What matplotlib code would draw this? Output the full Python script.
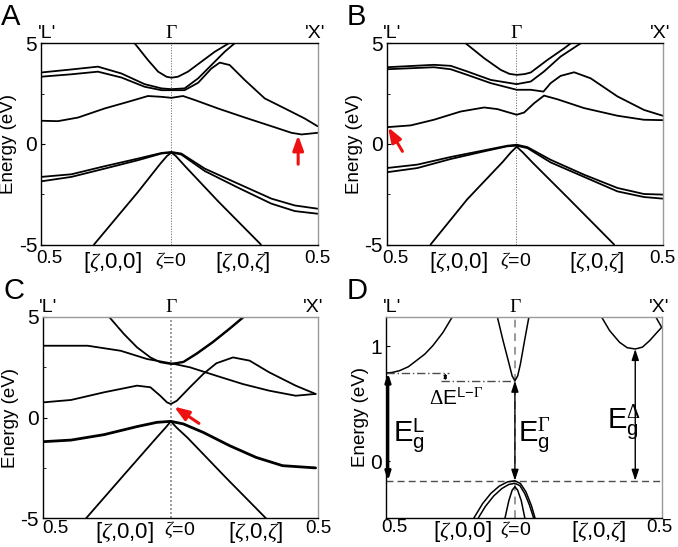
import matplotlib
matplotlib.use("Agg")
import matplotlib.pyplot as plt

plt.rcParams['font.family'] = ['Liberation Sans', 'DejaVu Sans']
plt.rcParams['mathtext.fontset'] = 'custom'
plt.rcParams['mathtext.rm'] = 'Liberation Serif'
plt.rcParams['mathtext.it'] = 'Liberation Serif:italic'
plt.rcParams['mathtext.sf'] = 'Liberation Sans'

# k-path coordinate: 0 = 'L' end, 1 = 'X' end, Gamma in between
K_GAMMA = 0.469

# ---------------- panel A ----------------
A_c4_k = [0.338, 0.386, 0.423, 0.453, 0.471, 0.495, 0.531, 0.580, 0.628, 0.679]
A_c4_E = [5.0, 4.17, 3.59, 3.34, 3.29, 3.34, 3.59, 4.09, 4.58, 5.0]
A_c3_k = [0, 0.109, 0.205, 0.290, 0.374, 0.435, 0.471, 0.519, 0.568, 0.616, 0.664, 0.700]
A_c3_E = [3.55, 3.70, 3.84, 3.50, 2.97, 2.76, 2.72, 2.76, 3.26, 3.92, 4.58, 5.0]
A_c2_k = [0, 0.109, 0.205, 0.290, 0.374, 0.435, 0.471, 0.519, 0.568, 0.616, 0.646, 0.682,
          0.737, 0.809, 0.882, 0.954, 1.0]
A_c2_E = [3.34, 3.46, 3.59, 3.30, 2.84, 2.67, 2.67, 2.67, 3.04, 3.75, 4.04, 3.92,
          3.17, 2.26, 1.76, 1.26, 0.88]
A_c1_k = [0, 0.060, 0.133, 0.229, 0.314, 0.386, 0.435, 0.471, 0.513, 0.556, 0.640,
          0.737, 0.833, 0.906, 0.942, 1.0]
A_c1_E = [1.15, 1.13, 1.31, 1.76, 2.09, 2.38, 2.34, 2.29, 2.38, 2.18, 1.76,
          1.31, 0.88, 0.55, 0.47, 0.55]
A_v1_k = [0, 0.109, 0.229, 0.350, 0.435, 0.471, 0.507, 0.592, 0.713, 0.833, 0.918, 1.0]
A_v1_E = [-1.64, -1.51, -1.11, -0.73, -0.45, -0.40, -0.48, -1.23, -1.98, -2.72, -3.06, -3.22]
A_v2_k = [0, 0.109, 0.229, 0.350, 0.435, 0.471, 0.507, 0.592, 0.713, 0.833, 0.918, 1.0]
A_v2_E = [-1.86, -1.64, -1.23, -0.81, -0.48, -0.43, -0.53, -1.35, -2.18, -2.97, -3.34, -3.47]
A_v0_k = [0.191, 0.350, 0.430, 0.455, 0.471, 0.487, 0.520, 0.640, 0.795]
A_v0_E = [-5.0, -2.39, -1.0, -0.6, -0.43, -0.6, -1.1, -2.85, -5.0]
A_arrow = [(0.930, -1.01), (0.930, 0.43)]   # tail, tip

# ---------------- panel B ----------------
B_c4_k = [0.286, 0.353, 0.413, 0.445, 0.471, 0.500, 0.522, 0.582, 0.643, 0.667]
B_c4_E = [5.0, 4.26, 3.68, 3.48, 3.43, 3.47, 3.55, 4.17, 4.75, 5.0]
B_c3_k = [0, 0.171, 0.232, 0.292, 0.377, 0.471, 0.522, 0.570, 0.630, 0.703]
B_c3_E = [3.81, 3.93, 3.88, 3.60, 3.18, 2.97, 3.10, 3.60, 4.34, 5.0]
B_c2_k = [0, 0.171, 0.232, 0.292, 0.377, 0.471, 0.522, 0.568, 0.594, 0.630, 0.679,
          0.739, 0.836, 0.932, 1.0]
B_c2_E = [3.71, 3.81, 3.71, 3.43, 3.02, 2.69, 2.69, 2.60, 3.02, 3.38, 3.56,
          3.26, 2.36, 1.69, 1.40]
B_c1_k = [0, 0.087, 0.171, 0.268, 0.353, 0.401, 0.443, 0.471, 0.498, 0.534, 0.570,
          0.618, 0.715, 0.836, 0.932, 1.0]
B_c1_E = [0.83, 0.92, 1.20, 1.61, 1.81, 1.73, 1.56, 1.45, 1.56, 2.02, 2.40,
          2.22, 1.78, 1.40, 1.20, 1.18]
B_v1_k = [0, 0.111, 0.232, 0.353, 0.437, 0.471, 0.510, 0.594, 0.715, 0.836, 0.932, 1.0]
B_v1_E = [-1.20, -1.03, -0.65, -0.32, -0.09, -0.04, -0.16, -0.79, -1.53, -2.19, -2.49, -2.52]
B_v2_k = [0, 0.111, 0.232, 0.353, 0.437, 0.471, 0.510, 0.594, 0.715, 0.836, 0.932, 1.0]
B_v2_E = [-1.41, -1.20, -0.75, -0.37, -0.12, -0.09, -0.21, -0.92, -1.64, -2.36, -2.64, -2.72]
B_v0_k = [0.159, 0.292, 0.420, 0.450, 0.471, 0.493, 0.530, 0.655, 0.824]
B_v0_E = [-5.0, -2.75, -0.90, -0.42, -0.14, -0.42, -0.95, -2.66, -5.0]
B_arrow = [(0.057, -0.37), (0.005, 0.83)]

# ---------------- panel C ----------------
C_c4_k = [0.242, 0.297, 0.345, 0.394, 0.430, 0.469, 0.515, 0.564, 0.624, 0.685, 0.739]
C_c4_E = [5.0, 4.14, 3.48, 2.98, 2.74, 2.65, 2.74, 3.15, 3.73, 4.39, 5.0]
C_c5_k = [0.469, 0.515, 0.564, 0.624, 0.685, 0.735]
C_c5_E = [2.66, 2.77, 3.19, 3.77, 4.43, 5.0]
C_c3_k = [0, 0.164, 0.285, 0.382, 0.469, 0.539, 0.636, 0.733, 0.830, 0.927, 1.0]
C_c3_E = [3.56, 3.56, 3.31, 2.90, 2.69, 2.49, 2.07, 1.66, 1.33, 1.08, 1.17]
C_c1_k = [0, 0.103, 0.224, 0.345, 0.394, 0.430, 0.455, 0.469, 0.491, 0.539, 0.588,
          0.636, 0.697, 0.758, 0.830, 0.927, 1.0]
C_c1_E = [0.75, 0.87, 1.25, 1.58, 1.50, 1.08, 0.75, 0.67, 0.83, 1.50, 2.16,
          2.69, 2.98, 2.82, 2.24, 1.58, 1.17]
C_v1_k = [0, 0.103, 0.224, 0.345, 0.418, 0.469, 0.515, 0.588, 0.685, 0.782, 0.879, 1.0]
C_v1_E = [-1.20, -1.12, -0.85, -0.45, -0.24, -0.19, -0.32, -0.74, -1.40, -1.98, -2.39, -2.50]
C_v0_k = [0.158, 0.300, 0.420, 0.450, 0.469, 0.490, 0.530, 0.670, 0.818]
C_v0_E = [-5.0, -2.80, -0.95, -0.50, -0.19, -0.50, -1.00, -2.97, -5.0]
C_arrow = [(0.572, -0.29), (0.481, 0.54)]

# ---------------- panel D ----------------
D_L_k = [0, 0.02, 0.048, 0.08, 0.109, 0.14, 0.169, 0.206, 0.240]
D_L_E = [0.766, 0.77, 0.786, 0.82, 0.873, 0.93, 1.003, 1.118, 1.254]
D_G_k = [0.403, 0.424, 0.446, 0.457, 0.467, 0.477, 0.487, 0.502, 0.518]
D_G_E = [1.254, 1.046, 0.844, 0.74, 0.699, 0.74, 0.844, 1.046, 1.254]
D_X_k = [0.781, 0.811, 0.847, 0.875, 0.904, 0.930, 0.956, 0.980, 1.0]
D_X_E = [1.254, 1.133, 1.032, 0.985, 0.974, 0.99, 1.046, 1.11, 1.162]
D_X2_k = [0.978, 1.0]
D_X2_E = [1.254, 1.162]
D_v1_k = [0.318, 0.350, 0.380, 0.410, 0.440, 0.467, 0.487, 0.507, 0.527, 0.540]
D_v1_E = [-0.491, -0.365, -0.277, -0.215, -0.178, -0.168, -0.192, -0.264, -0.384, -0.491]
D_v2_k = [0.334, 0.360, 0.390, 0.420, 0.445, 0.467, 0.485, 0.503, 0.520, 0.535]
D_v2_E = [-0.491, -0.39, -0.30, -0.235, -0.20, -0.19, -0.21, -0.28, -0.38, -0.491]
D_v3_k = [0.431, 0.445, 0.457, 0.467, 0.477, 0.490, 0.503]
D_v3_E = [-0.491, -0.34, -0.25, -0.22, -0.25, -0.34, -0.491]
D_VBM = -0.168
D_CBM_L = 0.766
D_CBM_G = 0.699
D_CBM_X = 0.974
D_k_X = 0.904

fig = plt.figure(figsize=(6.78, 5.47), dpi=100)
W, H = 678.0, 547.0


def make_axes(x0, y0, x1, y1):
    return fig.add_axes([x0 / W, 1 - y1 / H, (x1 - x0) / W, (y1 - y0) / H])


def style(ax, ylim, yticks, minor, letter, xticks_pos, top_dark=True, xpad=4):
    ax.set_xlim(0, 1)
    ax.set_ylim(*ylim)
    ax.set_yticks(yticks)
    ax.set_yticklabels([f"{t:g}" if t >= 0 else f"-{abs(t):g}" for t in yticks], fontsize=15)
    ax.set_yticks(minor, minor=True)
    ax.tick_params(axis='y', which='both', direction='in', length=3, pad=3, right=False)
    ax.tick_params(axis='y', which='minor', length=2)
    labels = ["0.5", r"[$\zeta$,0,0]", r"$\zeta$=0", r"[$\zeta$,0,$\zeta$]", "0.5"]
    ax.set_xticks(xticks_pos)
    ax.set_xticklabels(labels)
    sizes = [13.5, 16, 14, 16, 13.5]
    for lab, s in zip(ax.get_xticklabels(), sizes):
        lab.set_fontsize(s)
    ax.tick_params(axis='x', length=0, pad=xpad)
    ax.set_ylabel("Energy (eV)", fontsize=13.5, labelpad=1)
    tr = ax.get_xaxis_transform()
    ax.text(0.02, 1.005, "'L'", transform=tr, ha='center', va='bottom', fontsize=14)
    ax.text(K_GAMMA, 1.005, r"$\Gamma$", transform=tr, ha='center', va='bottom', fontsize=14)
    ax.text(0.99, 1.005, "'X'", transform=tr, ha='center', va='bottom', fontsize=14)
    ax.text(-0.145, 1.06, letter, transform=ax.transAxes, fontsize=21, va='bottom', ha='left')
    for side in ['left', 'bottom']:
        ax.spines[side].set_color('black')
    ax.spines['right'].set_color('0.6')
    ax.spines['top'].set_color('black' if top_dark else '0.6')
    for sp in ax.spines.values():
        sp.set_linewidth(1.0)


def bands(ax, pairs, lw=1.3):
    for k, e in pairs:
        ax.plot(k, e, color='black', lw=lw, solid_capstyle='round', clip_on=True)


def red_arrow(ax, pts):
    (x0, y0), (x1, y1) = pts
    ax.annotate('', xy=(x1, y1), xytext=(x0, y0),
                arrowprops=dict(arrowstyle='-|>,head_width=0.2,head_length=0.55',
                                color='#ee1111', lw=2.2, mutation_scale=16,
                                shrinkA=0, shrinkB=0))


# panel A
axA = make_axes(41.3, 43.3, 317.5, 244.5)
axA.axvline(K_GAMMA, color='0.45', lw=0.7, ls=(0, (1.2, 1.5)))
bands(axA, [(A_c4_k, A_c4_E), (A_c3_k, A_c3_E), (A_c2_k, A_c2_E), (A_c1_k, A_c1_E),
            (A_v1_k, A_v1_E), (A_v2_k, A_v2_E), (A_v0_k, A_v0_E)])
red_arrow(axA, A_arrow)
style(axA, (-5, 5), [-5, 0, 5], [-2.5, 2.5], "A", [0.03, 0.256, K_GAMMA, 0.73, 1.0])

# panel B
axB = make_axes(386.7, 43.3, 662.7, 244.5)
axB.axvline(K_GAMMA, color='0.45', lw=0.7, ls=(0, (1.2, 1.5)))
bands(axB, [(B_c4_k, B_c4_E), (B_c3_k, B_c3_E), (B_c2_k, B_c2_E), (B_c1_k, B_c1_E),
            (B_v1_k, B_v1_E), (B_v2_k, B_v2_E), (B_v0_k, B_v0_E)])
red_arrow(axB, B_arrow)
style(axB, (-5, 5), [-5, 0, 5], [-2.5, 2.5], "B", [0.03, 0.26, K_GAMMA, 0.76, 1.0])

# panel C
axC = make_axes(43.0, 316.7, 318.3, 518.3)
axC.axvline(K_GAMMA, color='0.55', lw=1.2, ls=(0, (1.2, 1.2)))
bands(axC, [(C_c4_k, C_c4_E), (C_c5_k, C_c5_E), (C_c3_k, C_c3_E), (C_c1_k, C_c1_E),
            (C_v0_k, C_v0_E)])
bands(axC, [(C_v1_k, C_v1_E)], lw=2.0)
red_arrow(axC, C_arrow)
style(axC, (-5, 5), [-5, 0, 5], [-2.5, 2.5], "C", [0.044, 0.30, 0.50, 0.78, 1.01],
      top_dark=False, xpad=1)

# panel D
axD = make_axes(386.3, 316.7, 661.7, 518.0)
axD.axvline(K_GAMMA - 0.002, color='0.6', lw=1.4, ls=(0, (4, 3)))
axD.axhline(D_VBM, color='0.3', lw=1.0, ls=(0, (5, 3)))
bands(axD, [(D_L_k, D_L_E), (D_G_k, D_G_E), (D_X_k, D_X_E), (D_X2_k, D_X2_E),
            (D_v1_k, D_v1_E), (D_v2_k, D_v2_E), (D_v3_k, D_v3_E)], lw=1.1)
dd = (0, (6, 2, 1, 2))
axD.plot([0, 0.228], [D_CBM_L, D_CBM_L], color='0.3', lw=1.0, ls=dd)
axD.plot([0.199, 0.462], [D_CBM_G, D_CBM_G], color='0.3', lw=1.0, ls=dd)


def dbl_arrow(ax, x, y0, y1, lw=1.0, ms=12):
    ax.annotate('', xy=(x, y1), xytext=(x, y0),
                arrowprops=dict(arrowstyle='<|-|>,head_width=0.18,head_length=0.55',
                                color='black', lw=lw, mutation_scale=ms,
                                shrinkA=0, shrinkB=0))


dbl_arrow(axD, 0.006, D_VBM, D_CBM_L, lw=2.0, ms=9)
dbl_arrow(axD, K_GAMMA - 0.002, D_VBM, D_CBM_G)
dbl_arrow(axD, D_k_X, D_VBM, D_CBM_X)
dbl_arrow(axD, 0.214, D_CBM_G, D_CBM_L, lw=0.7, ms=5)

axD.text(0.154, 0.49, r"$\Delta\mathsf{E}^{\mathsf{L}\mathsf{-}\Gamma}$", fontsize=15,
         ha='left', va='baseline')
axD.text(0.024, 0.165, r"$\mathsf{E}_\mathsf{g}^\mathsf{L}$", fontsize=21,
         ha='left', va='baseline')
axD.text(0.478, 0.165, r"$\mathsf{E}_\mathsf{g}^{\Gamma}$", fontsize=21,
         ha='left', va='baseline')
axD.text(0.80, 0.28, r"$\mathsf{E}_\mathsf{g}^{\Delta}$", fontsize=21,
         ha='left', va='baseline')
style(axD, (-0.491, 1.254), [0, 1], [], "D", [0.03, 0.275, K_GAMMA, 0.77, 0.99],
      top_dark=False, xpad=1)

fig.savefig("out.png", dpi=100)
